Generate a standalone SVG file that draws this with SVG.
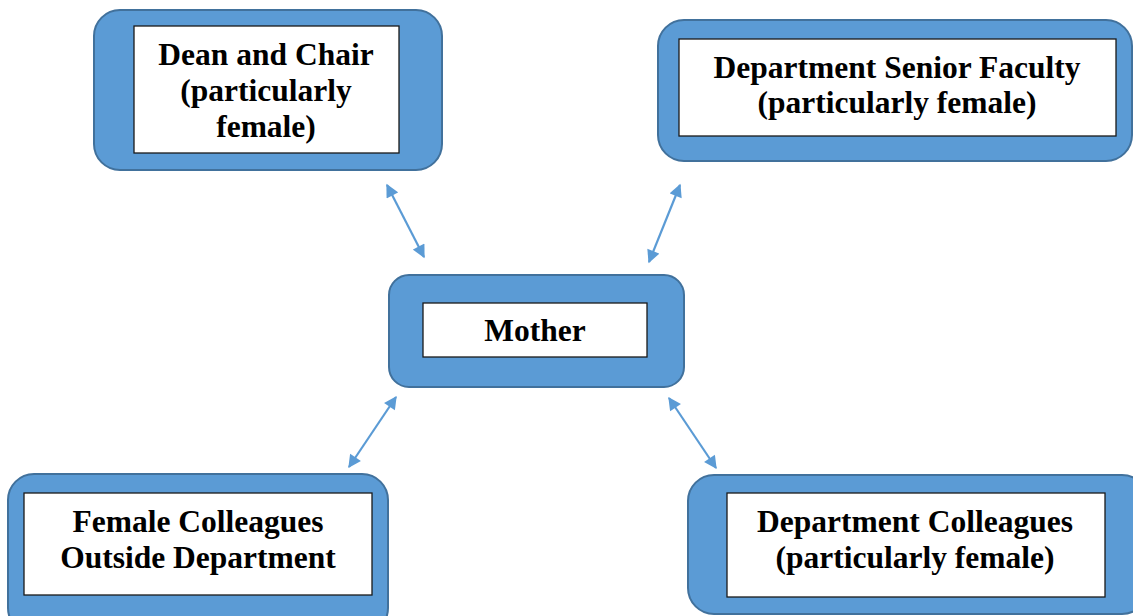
<svg xmlns="http://www.w3.org/2000/svg" width="1133" height="616" viewBox="0 0 1133 616">
<style>
.outer{fill:#5B9BD5;stroke:#41719C;stroke-width:2}
.inner{fill:#fff;stroke:#1a1a1a;stroke-width:1.3}
.t{font-family:"Liberation Serif","Times New Roman",serif;font-weight:bold;font-size:31.5px;fill:#000;text-anchor:middle}
.c{stroke:#5B9BD5;stroke-width:2.2;fill:none;marker-start:url(#ah);marker-end:url(#ah)}
</style>
<defs>
<marker id="ah" viewBox="0 0 10 10" refX="9" refY="5" markerWidth="15" markerHeight="13" markerUnits="userSpaceOnUse" orient="auto-start-reverse">
<path d="M0,0 L10,5 L0,10 z" fill="#5B9BD5"/>
</marker>
</defs>
<rect width="1133" height="616" fill="#fff"/>
<g id="connectors">
<line class="c" x1="387" y1="185" x2="424" y2="257"/>
<line class="c" x1="680" y1="185" x2="649" y2="262"/>
<line class="c" x1="396" y1="397" x2="349" y2="467"/>
<line class="c" x1="669" y1="398" x2="716" y2="468"/>
</g>
<g id="dean">
<rect class="outer" x="94" y="10" width="348" height="160" rx="26"/>
<rect class="inner" x="134" y="26" width="265" height="127"/>
<text class="t" x="266" y="65">Dean and Chair</text>
<text class="t" x="266" y="101">(particularly</text>
<text class="t" x="266" y="137">female)</text>
</g>
<g id="senior">
<rect class="outer" x="658" y="20" width="474" height="141" rx="26"/>
<rect class="inner" x="679" y="39" width="437" height="97"/>
<text class="t" x="897" y="78">Department Senior Faculty</text>
<text class="t" x="897" y="113">(particularly female)</text>
</g>
<g id="mother">
<rect class="outer" x="389" y="275" width="295" height="112" rx="20"/>
<rect class="inner" x="423" y="303" width="224" height="54"/>
<text class="t" x="535" y="341">Mother</text>
</g>
<g id="female">
<rect class="outer" x="8" y="474" width="380" height="160" rx="26"/>
<rect class="inner" x="24" y="493" width="348" height="102"/>
<text class="t" x="198" y="532">Female Colleagues</text>
<text class="t" x="198" y="568">Outside Department</text>
</g>
<g id="dept">
<rect class="outer" x="688" y="475" width="460" height="139" rx="26"/>
<rect class="inner" x="727" y="493" width="378" height="104"/>
<text class="t" x="915" y="532">Department Colleagues</text>
<text class="t" x="915" y="568">(particularly female)</text>
</g>
</svg>
